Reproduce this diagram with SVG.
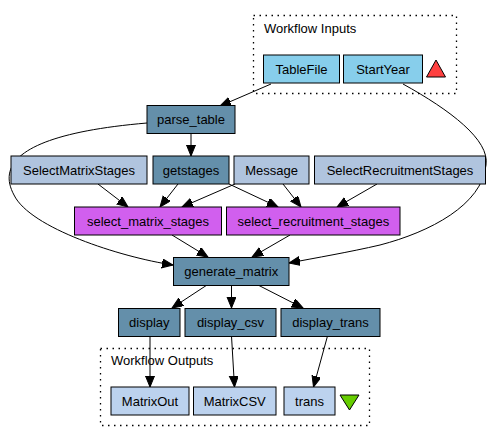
<svg xmlns="http://www.w3.org/2000/svg" width="495" height="443" viewBox="0 0 495 443">
<style>
text{font-family:"Liberation Sans",Arial,sans-serif;font-size:13px;fill:#000}
.n text{text-anchor:middle}
.n rect{stroke:#000;stroke-width:1}
.in{fill:#87ceeb}
.sc{fill:#b0c4de}
.rs{fill:#648faa}
.lw{fill:#d15fee}
.out{fill:#bcd2ee}
.cl{fill:none;stroke:#000;stroke-width:1.3;stroke-dasharray:1.5 4.5}
#edges path{fill:none;stroke:#000;stroke-width:1;marker-end:url(#ah)}
</style>
<defs>
<marker id="ah" markerUnits="userSpaceOnUse" markerWidth="13" markerHeight="11" refX="11" refY="4.5" orient="auto">
<path d="M0,0 L11,4.5 L0,9 z" fill="#000" stroke="#000" stroke-width="1"/>
</marker>
</defs>
<rect width="495" height="443" fill="#fff"/>
<g id="cluster_inputs">
<rect class="cl" x="253.5" y="15.5" width="203" height="78"/>
<text x="264" y="33">Workflow Inputs</text>
</g>
<g id="cluster_outputs">
<rect class="cl" x="100.5" y="348.5" width="269" height="77"/>
<text x="111" y="365">Workflow Outputs</text>
</g>
<g id="edges">
<path d="M271,84 L220,106"/>
<path d="M403,84 C450,110 490,140 486,165 C482,205 430,232 380,245 C350,252 315,258 289,263"/>
<path d="M191,134 L191,156"/>
<path d="M147,123 C30,133 -5,160 14,195 C30,228 120,257 173,265"/>
<path d="M98,184 L128,207"/>
<path d="M178,184 L160,207"/>
<path d="M229,184 L278,207"/>
<path d="M235,184 L182,207"/>
<path d="M283,184 L301,207"/>
<path d="M377,184 L337,207"/>
<path d="M172,235 L208,257"/>
<path d="M290,235 L252,257"/>
<path d="M207,285 L172,308"/>
<path d="M231.5,285 L231.5,308"/>
<path d="M258,285 L303,308"/>
<path d="M150,336 L150,387"/>
<path d="M231.5,336 L234.5,387"/>
<path d="M327.5,336 L313.5,387"/>
</g>
<g id="TableFile" class="n"><rect class="in" x="263.5" y="55" width="76" height="28"/><text x="301.5" y="73.5">TableFile</text></g>
<g id="StartYear" class="n"><rect class="in" x="343.5" y="55" width="79" height="28"/><text x="383" y="73.5">StartYear</text></g>
<g id="inputs_marker"><polygon points="436,60 426.5,77 445.5,77" fill="#ff4040" stroke="#000" stroke-width="1"/></g>
<g id="parse_table" class="n"><rect class="rs" x="147" y="105.5" width="88" height="28"/><text x="191" y="124">parse_table</text></g>
<g id="SelectMatrixStages" class="n"><rect class="sc" x="11" y="156" width="136" height="28"/><text x="79" y="174.5">SelectMatrixStages</text></g>
<g id="getstages" class="n"><rect class="rs" x="153" y="156" width="76" height="28"/><text x="191" y="174.5">getstages</text></g>
<g id="Message" class="n"><rect class="sc" x="234" y="156" width="75" height="28"/><text x="271.5" y="174.5">Message</text></g>
<g id="SelectRecruitmentStages" class="n"><rect class="sc" x="314.5" y="156" width="171" height="28"/><text x="400" y="174.5">SelectRecruitmentStages</text></g>
<g id="select_matrix_stages" class="n"><rect class="lw" x="74.5" y="207" width="147" height="28"/><text x="148" y="225.5">select_matrix_stages</text></g>
<g id="select_recruitment_stages" class="n"><rect class="lw" x="226.5" y="207" width="173.5" height="28"/><text x="313.3" y="225.5">select_recruitment_stages</text></g>
<g id="generate_matrix" class="n"><rect class="rs" x="173.5" y="257.5" width="115.5" height="28"/><text x="231.3" y="276">generate_matrix</text></g>
<g id="display" class="n"><rect class="rs" x="118.5" y="308.5" width="61.5" height="28"/><text x="149.3" y="327">display</text></g>
<g id="display_csv" class="n"><rect class="rs" x="185" y="308.5" width="91" height="28"/><text x="230.5" y="327">display_csv</text></g>
<g id="display_trans" class="n"><rect class="rs" x="281" y="308.5" width="99" height="28"/><text x="330.5" y="327">display_trans</text></g>
<g id="MatrixOut" class="n"><rect class="out" x="111" y="387" width="78" height="28"/><text x="150" y="405.5">MatrixOut</text></g>
<g id="MatrixCSV" class="n"><rect class="out" x="193.5" y="387" width="82.5" height="28"/><text x="234.7" y="405.5">MatrixCSV</text></g>
<g id="trans" class="n"><rect class="out" x="284" y="387" width="51" height="28"/><text x="309.5" y="405.5">trans</text></g>
<g id="outputs_marker"><polygon points="340,395 359,395 349.5,410" fill="#66cd00" stroke="#000" stroke-width="1"/></g>
</svg>
